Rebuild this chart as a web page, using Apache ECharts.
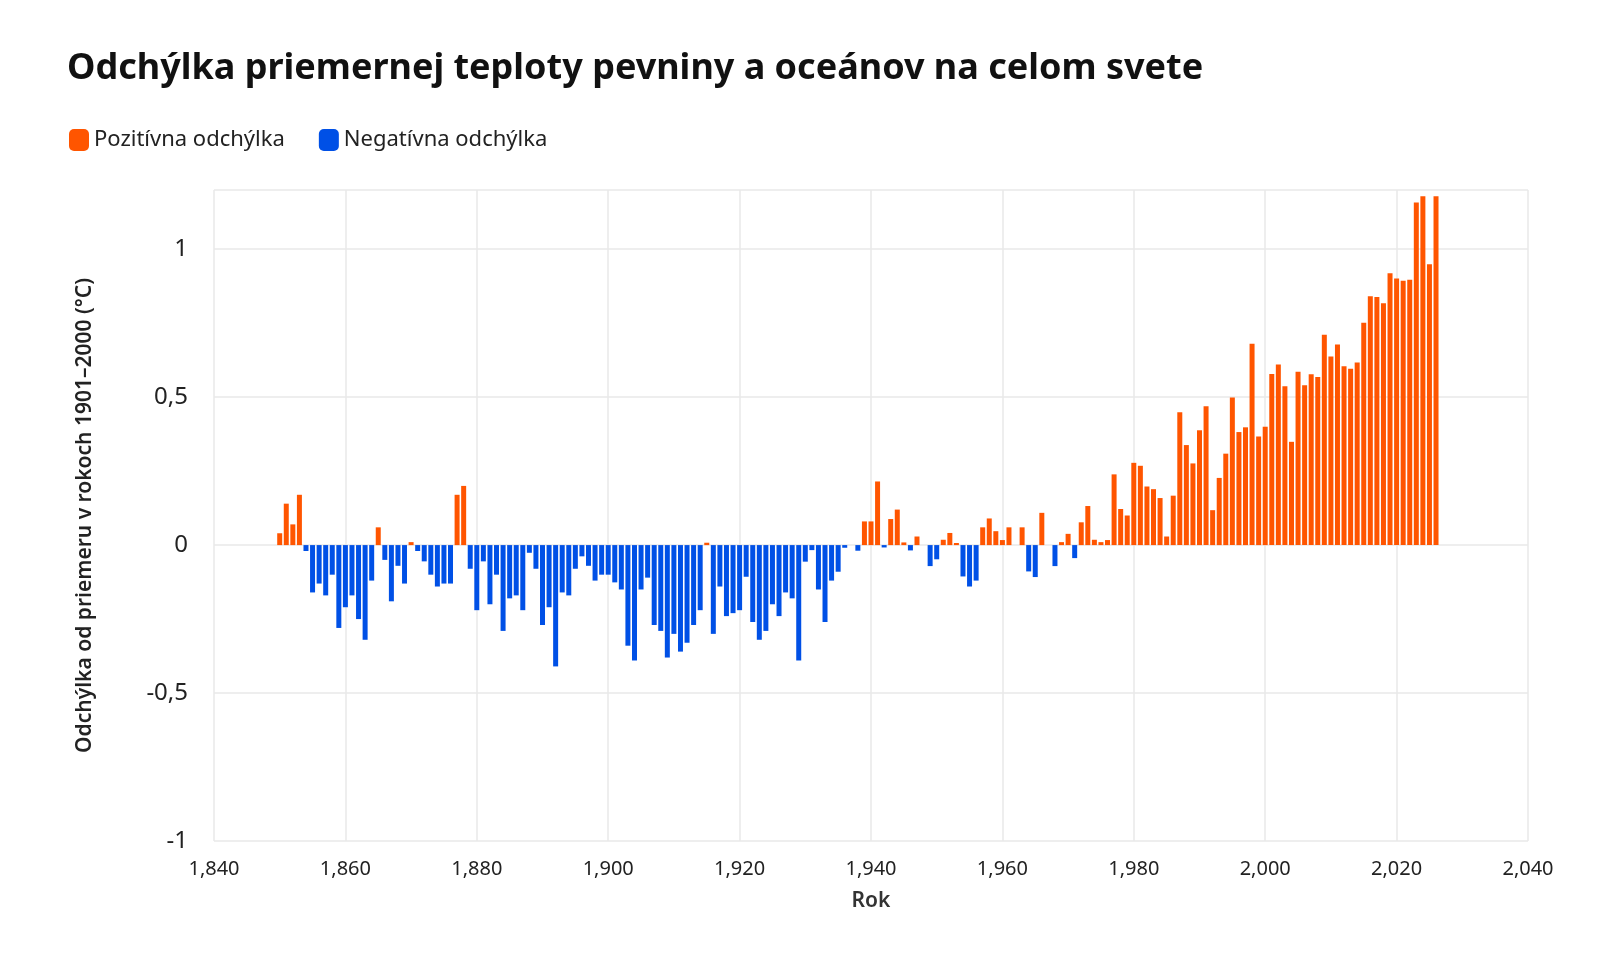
<!DOCTYPE html>
<html><head><meta charset="utf-8">
<script src="https://cdn.jsdelivr.net/npm/echarts@6/dist/echarts.min.js"></script>
<style>html,body{margin:0;padding:0;background:#fff}#c{width:1616px;height:973px}</style>
</head><body><div id="c"></div>
<script>
const startYear = 1850;
const anomalies = [
 0.04,0.14,0.07,0.17,-0.02,-0.16,-0.13,-0.17,-0.10,-0.28,
 -0.21,-0.17,-0.25,-0.32,-0.12,0.06,-0.05,-0.19,-0.07,-0.13,
 0.01,-0.02,-0.055,-0.10,-0.14,-0.13,-0.13,0.17,0.20,-0.08,
 -0.22,-0.055,-0.20,-0.10,-0.29,-0.18,-0.17,-0.22,-0.026,-0.08,
 -0.27,-0.21,-0.41,-0.16,-0.17,-0.08,-0.038,-0.07,-0.12,-0.10,
 -0.10,-0.126,-0.15,-0.34,-0.39,-0.15,-0.11,-0.27,-0.29,-0.38,
 -0.30,-0.36,-0.33,-0.27,-0.22,0.008,-0.30,-0.14,-0.24,-0.23,
 -0.22,-0.107,-0.26,-0.32,-0.29,-0.20,-0.24,-0.16,-0.18,-0.39,
 -0.056,-0.017,-0.15,-0.26,-0.12,-0.09,-0.009,0,-0.019,0.08,
 0.08,0.215,-0.008,0.088,0.12,0.009,-0.018,0.029,0,-0.071,
 -0.048,0.018,0.041,0.007,-0.106,-0.14,-0.12,0.06,0.09,0.047,
 0.017,0.06,0,0.06,-0.089,-0.108,0.109,0,-0.071,0.01,
 0.038,-0.044,0.077,0.132,0.018,0.01,0.017,0.239,0.122,0.10,
 0.278,0.268,0.198,0.189,0.159,0.029,0.167,0.449,0.338,0.276,
 0.388,0.469,0.118,0.227,0.309,0.499,0.382,0.398,0.68,0.367,
 0.40,0.578,0.61,0.537,0.349,0.586,0.54,0.577,0.568,0.711,
 0.637,0.678,0.604,0.596,0.617,0.751,0.841,0.838,0.817,0.919,
 0.901,0.893,0.897,1.158,1.179,0.949,1.179
];
const yTicks = [-1,-0.5,0,0.5,1];
const years = anomalies.map((v,i)=>startYear+i);
const posData = years.map((y,i)=> anomalies[i] > 0 ? [y, anomalies[i]] : [y, null]);
const negData = years.map((y,i)=> anomalies[i] < 0 ? [y, anomalies[i]] : [y, null]);

const F = '"Noto Sans", "Open Sans", sans-serif';
const chart = echarts.init(document.getElementById('c'));
chart.setOption({
  animation:false,
  title:{text:'Odchýlka priemernej teploty pevniny a oceánov na celom svete',left:62,top:46,
    textStyle:{fontFamily:F,fontSize:36,fontWeight:'bold',color:'#111'}},
  legend:{left:64,top:124,itemWidth:20,itemHeight:22,itemGap:34,icon:'roundRect',
    textStyle:{fontFamily:F,fontSize:22,color:'#222'},
    data:['Pozitívna odchýlka','Negatívna odchýlka']},
  grid:{left:214,right:88,top:190,bottom:132},
  xAxis:{type:'value',min:1840,max:2040,interval:20,name:'Rok',nameLocation:'middle',nameGap:50,
    nameTextStyle:{fontFamily:F,fontSize:21,fontWeight:600,color:'#333'},
    axisLine:{show:false},axisTick:{show:false},
    axisLabel:{fontFamily:F,fontSize:20,color:'#222',margin:18},
    splitLine:{show:true,lineStyle:{color:'#e8e8e8',width:1.5}}},
  yAxis:{type:'value',min:-1,max:1.2,interval:0.5,
    name:'Odchýlka od priemeru v rokoch 1901–2000 (°C)',nameLocation:'middle',nameGap:118,
    nameTextStyle:{fontFamily:F,fontSize:21,fontWeight:600,color:'#222'},
    axisLine:{show:false},axisTick:{show:false},
    axisLabel:{fontFamily:F,fontSize:24,color:'#222',margin:26,
      formatter:v=> yTicks.includes(+v.toFixed(2)) ? String(v).replace('.',',') : ''},
    splitLine:{lineStyle:{color:'#e8e8e8',width:1.5}}},
  series:[
    {name:'Pozitívna odchýlka',type:'bar',data:posData,barWidth:5,barGap:'-100%',
      itemStyle:{color:'#ff5500'}},
    {name:'Negatívna odchýlka',type:'bar',data:negData,barWidth:5,barGap:'-100%',
      itemStyle:{color:'#0050e6'}}
  ]
});
</script></body></html>
